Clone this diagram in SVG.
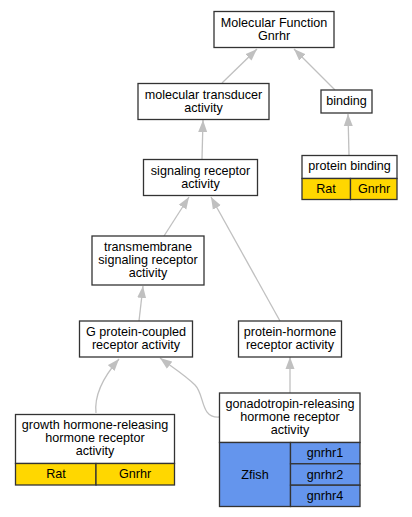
<svg xmlns="http://www.w3.org/2000/svg" width="412" height="517" viewBox="0 0 412 517">
<defs>
<style>
.box{fill:#fff;stroke:#333;stroke-width:1.3}
.y{fill:#ffd700;stroke:#333;stroke-width:1.3}
.b{fill:#6495ed;stroke:#333;stroke-width:1.3}
text{font-family:"Liberation Sans",Arial,sans-serif;font-size:12.6px;fill:#000;text-anchor:middle}
.e{fill:none;stroke:#c0c0c0;stroke-width:1.3}
</style>
<marker id="ah" viewBox="0 0 12 10" refX="12" refY="5" markerWidth="12" markerHeight="10" markerUnits="userSpaceOnUse" orient="auto">
<path d="M0,0.5 L12,5 L0,9.5 z" fill="#c0c0c0"/>
</marker>
</defs>
<rect width="412" height="517" fill="#fff"/>
<g id="edges">
<path class="e" marker-end="url(#ah)" d="M222,83 L257,49"/>
<path class="e" marker-end="url(#ah)" d="M335,90 L294,49"/>
<path class="e" marker-end="url(#ah)" d="M349,155 L348,114"/>
<path class="e" marker-end="url(#ah)" d="M202,159 L203,120"/>
<path class="e" marker-end="url(#ah)" d="M164,236 L189,197"/>
<path class="e" marker-end="url(#ah)" d="M280,321 L211,197"/>
<path class="e" marker-end="url(#ah)" d="M139,321 L143,286"/>
<path class="e" marker-end="url(#ah)" d="M96,413 C94,395 105,375 119,359"/>
<path class="e" marker-end="url(#ah)" d="M219,417 C200,418 205,395 195,385 C185,375 172,367 160,358"/>
<path class="e" marker-end="url(#ah)" d="M290,393 L290,357"/>
</g>
<g id="mf">
<rect class="box" x="214" y="11.5" width="120" height="36"/>
<text x="274" y="26.5">Molecular Function</text>
<text x="274" y="39.5">Gnrhr</text>
</g>
<g id="mta">
<rect class="box" x="138" y="83.5" width="131" height="36"/>
<text x="203.5" y="98.5">molecular transducer</text>
<text x="203.5" y="111.5">activity</text>
</g>
<g id="binding">
<rect class="box" x="321" y="90" width="51" height="23"/>
<text x="346.5" y="104.5">binding</text>
</g>
<g id="pb">
<rect class="box" x="302" y="155.5" width="95" height="23"/>
<text x="349.5" y="170">protein binding</text>
<rect class="y" x="302" y="178.5" width="48.5" height="21"/>
<rect class="y" x="350.5" y="178.5" width="46.5" height="21"/>
<text x="326" y="192.5">Rat</text>
<text x="374" y="192.5">Gnrhr</text>
</g>
<g id="sra">
<rect class="box" x="143.5" y="159.5" width="114" height="36"/>
<text x="200.5" y="174.5">signaling receptor</text>
<text x="200.5" y="187.5">activity</text>
</g>
<g id="tsra">
<rect class="box" x="92" y="236" width="112" height="49"/>
<text x="148" y="250.5">transmembrane</text>
<text x="148" y="263.5">signaling receptor</text>
<text x="148" y="276.5">activity</text>
</g>
<g id="gpcr">
<rect class="box" x="79.5" y="321" width="113" height="36"/>
<text x="136" y="336">G protein-coupled</text>
<text x="136" y="349">receptor activity</text>
</g>
<g id="phra">
<rect class="box" x="238.5" y="321" width="103" height="36"/>
<text x="290" y="336">protein-hormone</text>
<text x="290" y="349">receptor activity</text>
</g>
<g id="ghrh">
<rect class="box" x="15.5" y="414.5" width="159" height="49"/>
<text x="95" y="429">growth hormone-releasing</text>
<text x="95" y="442">hormone receptor</text>
<text x="95" y="455">activity</text>
<rect class="y" x="15.5" y="463.5" width="80.5" height="21.5"/>
<rect class="y" x="96" y="463.5" width="78.5" height="21.5"/>
<text x="56" y="477.5">Rat</text>
<text x="135" y="477.5">Gnrhr</text>
</g>
<g id="gnrh">
<rect class="box" x="219.5" y="393" width="140.5" height="49.5"/>
<text x="290" y="407.5">gonadotropin-releasing</text>
<text x="290" y="420.5">hormone receptor</text>
<text x="290" y="433.5">activity</text>
<rect class="b" x="219.5" y="442.5" width="71" height="64"/>
<text x="255" y="478.5">Zfish</text>
<rect class="b" x="290.5" y="442.5" width="69.5" height="21.3"/>
<rect class="b" x="290.5" y="463.8" width="69.5" height="21.4"/>
<rect class="b" x="290.5" y="485.2" width="69.5" height="21.3"/>
<text x="325" y="457.2">gnrhr1</text>
<text x="325" y="478.5">gnrhr2</text>
<text x="325" y="499.9">gnrhr4</text>
</g>
</svg>
